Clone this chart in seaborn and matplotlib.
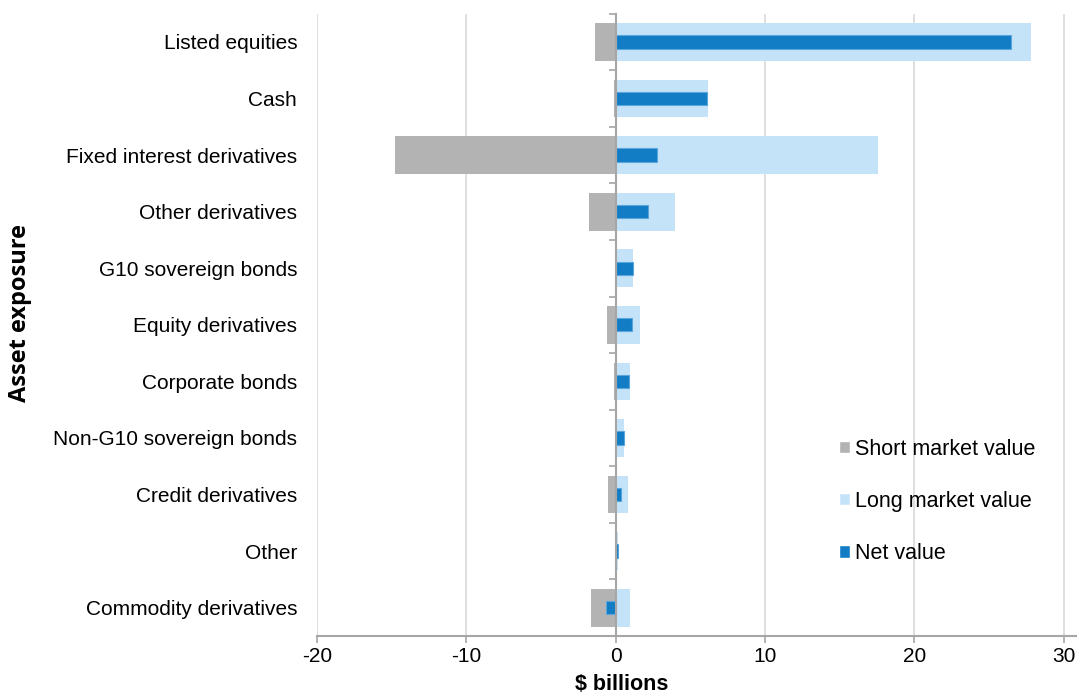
import matplotlib
matplotlib.use("Agg")
import matplotlib.pyplot as plt
import matplotlib.transforms as mtransforms
from matplotlib.patches import Patch
from matplotlib.ticker import FixedLocator
import numpy as np
import pandas as pd
import seaborn as sns

categories = [
    "Listed equities", "Cash", "Fixed interest derivatives", "Other derivatives",
    "G10 sovereign bonds", "Equity derivatives", "Corporate bonds",
    "Non-G10 sovereign bonds", "Credit derivatives", "Other", "Commodity derivatives",
]
short_value = [-1.36, -0.08, -14.8, -1.79, 0.0, -0.58, -0.13, 0.0, -0.49, 0.0, -1.65]
long_value = [27.8, 6.2, 17.6, 3.95, 1.14, 1.63, 0.98, 0.58, 0.82, 0.18, 0.98]
net_value = [26.5, 6.14, 2.8, 2.17, 1.14, 1.07, 0.89, 0.58, 0.33, 0.15, -0.67]
x_ticks = [-20, -10, 0, 10, 20, 30]

df = pd.DataFrame({
    "category": categories,
    "short": short_value,
    "long": long_value,
    "net": net_value,
})

sns.set_theme(style="white")
plt.rcParams["font.family"] = ["Liberation Sans", "DejaVu Sans"]
plt.rcParams["text.color"] = "black"
plt.rcParams["xtick.color"] = "black"
plt.rcParams["ytick.color"] = "black"

FS = 15

c_short = "#B3B3B3"
c_long = "#C5E3F8"
c_net = "#127DC5"

fig = plt.figure(figsize=(10.77, 6.97), dpi=100)
ax = fig.add_axes([317 / 1077, (697 - 636) / 697, 760 / 1077, (636 - 13.7) / 697])

sns.barplot(data=df, x="short", y="category", orient="h", color=c_short,
            width=0.665, errorbar=None, saturation=1, ax=ax, linewidth=0)
sns.barplot(data=df, x="long", y="category", orient="h", color=c_long,
            width=0.665, errorbar=None, saturation=1, ax=ax, linewidth=0)
sns.barplot(data=df, x="net", y="category", orient="h", color=c_net,
            width=0.235, errorbar=None, saturation=1, ax=ax,
            edgecolor="#5AA6DC", linewidth=0.8)

ax.set_xlim(-20, 30.9)
ax.set_ylim(len(categories) - 0.5, -0.5)

# vertical gridlines
ax.set_xticks(x_ticks)
ax.set_xticklabels([str(v) for v in x_ticks], fontsize=FS, color="black")
ax.grid(axis="x", color="#D9D9D9", linewidth=1.2)
ax.grid(axis="y", visible=False)
ax.set_axisbelow(True)

for s in ["top", "right"]:
    ax.spines[s].set_visible(False)
ax.spines["bottom"].set_color("#A6A6A6")
ax.spines["bottom"].set_linewidth(1.5)
ax.tick_params(axis="x", direction="out", length=5, width=1.2, color="#A6A6A6",
               bottom=True, pad=3)

# category axis sits on the zero line
ax.spines["left"].set_position(("data", 0))
ax.spines["left"].set_color("#A6A6A6")
ax.spines["left"].set_linewidth(1.5)
ax.yaxis.set_minor_locator(FixedLocator(np.arange(-0.5, len(categories), 1.0)))
ax.tick_params(axis="y", which="minor", direction="out", length=5, width=1.2,
               color="#A6A6A6", left=True)
ax.tick_params(axis="y", which="major", length=0, labelleft=False)
ax.set_ylabel("")
ax.set_xlabel("")

trans = mtransforms.blended_transform_factory(ax.transAxes, ax.transData)
trans = mtransforms.offset_copy(trans, fig=fig, y=-2, units="dots")
for i, name in enumerate(categories):
    ax.text(-0.026, i, name, transform=trans, ha="right", va="center",
            fontsize=FS, color="black")

# axis titles
fig.text(622 / 1077, 1.5 / 697, "$ billions", ha="center", va="bottom",
         fontsize=15.5, fontweight="bold")
fig.text(0.019, (697 - 313) / 697, "Asset exposure", rotation=90, ha="center",
         va="center", fontsize=17, fontweight="bold", family=["Open Sans", "DejaVu Sans"])

handles = [Patch(facecolor=c_short, label="Short market value"),
           Patch(facecolor=c_long, label="Long market value"),
           Patch(facecolor=c_net, label="Net value")]
ax.legend(handles=handles, loc="upper left",
          bbox_to_anchor=(830 / 1077, (697 - 430) / 697),
          bbox_transform=fig.transFigure, frameon=False, fontsize=15.5,
          labelcolor="black",
          handlelength=0.52, handleheight=0.52, handletextpad=0.25, labelspacing=1.45,
          borderaxespad=0)

fig.savefig("out.png", dpi=100)
